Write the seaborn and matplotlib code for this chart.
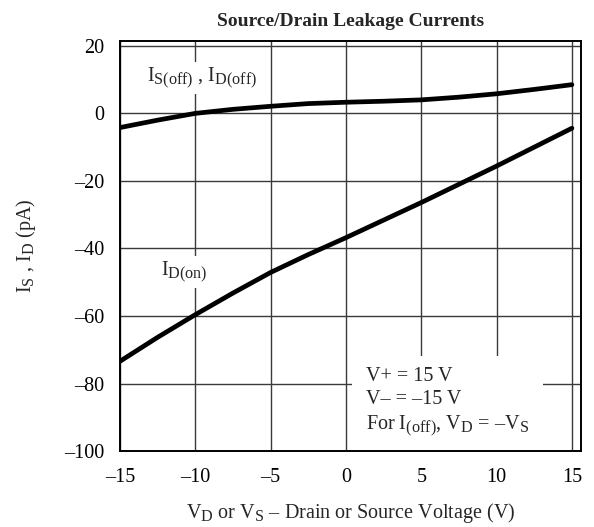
import pandas as pd
import matplotlib
matplotlib.use("Agg")
import matplotlib.pyplot as plt
import matplotlib._mathtext as mathtext_internal
import seaborn as sns

# values
voltage = [-15, -12.5, -10, -7.5, -5, -2.5, 0, 2.5, 5, 7.5, 10, 12.5, 15]
i_off = [-4.2, -2.0, 0.0, 1.2, 2.1, 2.9, 3.3, 3.6, 4.0, 4.8, 5.8, 7.1, 8.5]
i_on = [-73.4, -66.3, -59.6, -53.2, -47.1, -41.8, -36.8, -31.6, -26.4, -21.0, -15.6, -10.0, -4.4]
x_ticks = [-15, -10, -5, 0, 5, 10, 15]
y_ticks = [-100, -80, -60, -40, -20, 0, 20]

df = pd.DataFrame({
    "V": voltage * 2,
    "I": i_off + i_on,
    "curve": ["off"] * len(voltage) + ["on"] * len(voltage),
})

# subscripts in the reference are larger than mathtext's default
mathtext_internal.SHRINK_FACTOR = 0.8

sns.set_theme(style="white")
plt.rcParams["font.family"] = ["Liberation Serif", "DejaVu Serif"]
plt.rcParams["mathtext.fontset"] = "custom"
plt.rcParams["mathtext.rm"] = "Liberation Serif"
plt.rcParams["mathtext.it"] = "Liberation Serif:italic"
plt.rcParams["mathtext.default"] = "rm"

fig = plt.figure(figsize=(5.94, 5.27), dpi=100)
ax = fig.add_axes([0.202, 0.144, 0.776, 0.778])

sns.lineplot(data=df, x="V", y="I", hue="curve", palette=["black", "black"],
             linewidth=3.4, legend=False, ax=ax, zorder=3,
             solid_capstyle="round")

fs = 14.5
ax.set_xlim(-15, 15.6)
ax.set_ylim(-100, 21.4)
ax.set_xticks(x_ticks)
ax.set_yticks(y_ticks)
ax.set_xticklabels([str(t).replace("-", "\u2013") for t in x_ticks])
ax.set_yticklabels([str(t).replace("-", "\u2013") for t in y_ticks])
ax.tick_params(axis="both", labelsize=fs, length=0, colors="black")
ax.tick_params(axis="y", pad=11)
ax.tick_params(axis="x", pad=12)
ax.grid(True, color="#3a3a3a", linewidth=1.0, zorder=0)
ax.set_axisbelow(True)
for s in ax.spines.values():
    s.set_color("black")
    s.set_linewidth(1.4)

ax.set_title("Source/Drain Leakage Currents", fontsize=14, fontweight="bold", pad=11)
ax.set_xlabel("V$_D$ or V$_S$ \u2013 Drain or Source Voltage (V)", fontsize=fs, labelpad=10)
ax.set_ylabel("I$_S$ , I$_D$ (pA)", fontsize=fs, labelpad=19)

box = dict(facecolor="white", edgecolor="none", pad=3)
ax.text(-13.2, 10.5, "I$_{S(off)}$ , I$_{D(off)}$", fontsize=fs, va="center",
        bbox=box, zorder=2)
ax.text(-12.3, -47.0, "I$_{D(on)}$", fontsize=fs, va="center", bbox=box, zorder=2)
ax.text(1.35, -85.5,
        "V+ = 15 V\nV\u2013 = \u201315 V\nFor I$_{(off)}$, V$_D$ = \u2013V$_S$",
        fontsize=fs, va="center", ha="left", linespacing=1.3,
        bbox=dict(facecolor="white", edgecolor="none", pad=10), zorder=2)

fig.savefig("out.png", dpi=100)
